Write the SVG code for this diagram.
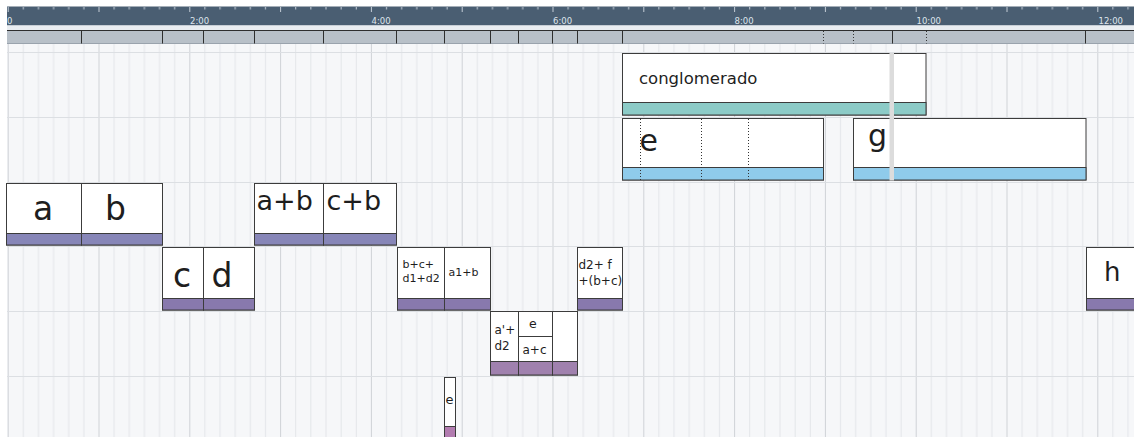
<svg xmlns="http://www.w3.org/2000/svg" width="1134" height="437" viewBox="0 0 1134 437">
<defs>
<style>
.clip{fill:#fff;stroke:#3c3c3c;stroke-width:1}
.t{font-family:"DejaVu Sans","Liberation Sans",sans-serif;fill:#1e1e1e}
.rl{font-family:"DejaVu Sans","Liberation Sans",sans-serif;font-size:8.5px;fill:#dfe5ec}
.sep{stroke:#2e2e2e;stroke-width:1}
.dsep{stroke:#333;stroke-width:1;stroke-dasharray:1 2}
.track{stroke:#dcdfe3;stroke-width:1}
.b1{fill:#8786b8;stroke:#3c3c3c}
.b2{fill:#8879ad;stroke:#3c3c3c}
.b3{fill:#a081ae;stroke:#3c3c3c}
.b4{fill:#b27cb0;stroke:#3c3c3c}
.bt{fill:#8ccbc7;stroke:#3c3c3c}
.bb{fill:#8fcbeb;stroke:#3c3c3c}
</style>
<pattern id="grid" patternUnits="userSpaceOnUse" x="7.7" y="0" width="90.8" height="437">
<rect x="0" y="0" width="1" height="437" fill="#cfd2d7"/>
<rect x="15.13" y="0" width="1" height="437" fill="#e3e5e9"/>
<rect x="30.27" y="0" width="1" height="437" fill="#e3e5e9"/>
<rect x="45.4" y="0" width="1" height="437" fill="#e3e5e9"/>
<rect x="60.53" y="0" width="1" height="437" fill="#e3e5e9"/>
<rect x="75.67" y="0" width="1" height="437" fill="#e3e5e9"/>
</pattern>
<pattern id="ticks" patternUnits="userSpaceOnUse" x="7.7" y="0" width="90.8" height="30">
<rect x="0" y="7" width="1" height="5" fill="#c3ccd6"/>
<rect x="15.13" y="7" width="1" height="2.5" fill="#c3ccd6"/>
<rect x="30.27" y="7" width="1" height="2.5" fill="#c3ccd6"/>
<rect x="45.4" y="7" width="1" height="2.5" fill="#c3ccd6"/>
<rect x="60.53" y="7" width="1" height="2.5" fill="#c3ccd6"/>
<rect x="75.67" y="7" width="1" height="2.5" fill="#c3ccd6"/>
</pattern>
</defs>
<rect x="0" y="0" width="1134" height="437" fill="#ffffff"/>

<g id="ruler">
<rect x="7" y="6.5" width="1127" height="19" fill="#4a5e72"/>
<rect x="7" y="6.5" width="1127" height="19" fill="url(#ticks)"/>
<rect x="7" y="25.5" width="1127" height="4.5" fill="#e9edf1"/>
<text class="rl" x="7" y="24">0</text>
<text class="rl" x="190" y="24">2:00</text>
<text class="rl" x="371.5" y="24">4:00</text>
<text class="rl" x="553" y="24">6:00</text>
<text class="rl" x="734.5" y="24">8:00</text>
<text class="rl" x="916.5" y="24">10:00</text>
<text class="rl" x="1098.5" y="24">12:00</text>
<rect x="7" y="30" width="1127" height="13.5" fill="#b8c0c8"/>
<line x1="7" y1="30.5" x2="1134" y2="30.5" stroke="#2e2e2e"/>
<line x1="7" y1="43.5" x2="1134" y2="43.5" stroke="#9aa3ad"/>
<line class="sep" x1="81.5" y1="30" x2="81.5" y2="43.5"/>
<line class="sep" x1="162.5" y1="30" x2="162.5" y2="43.5"/>
<line class="sep" x1="203.5" y1="30" x2="203.5" y2="43.5"/>
<line class="sep" x1="254.5" y1="30" x2="254.5" y2="43.5"/>
<line class="sep" x1="323.5" y1="30" x2="323.5" y2="43.5"/>
<line class="sep" x1="396.5" y1="30" x2="396.5" y2="43.5"/>
<line class="sep" x1="444.5" y1="30" x2="444.5" y2="43.5"/>
<line class="sep" x1="490.5" y1="30" x2="490.5" y2="43.5"/>
<line class="sep" x1="518.5" y1="30" x2="518.5" y2="43.5"/>
<line class="sep" x1="552.5" y1="30" x2="552.5" y2="43.5"/>
<line class="sep" x1="577.5" y1="30" x2="577.5" y2="43.5"/>
<line class="sep" x1="622.5" y1="30" x2="622.5" y2="43.5"/>
<line class="dsep" x1="823.5" y1="31" x2="823.5" y2="43.5"/>
<line class="dsep" x1="853.5" y1="31" x2="853.5" y2="43.5"/>
<line class="sep" x1="892.5" y1="30" x2="892.5" y2="43.5"/>
<line class="dsep" x1="926.5" y1="31" x2="926.5" y2="43.5"/>
<line class="sep" x1="1085.5" y1="30" x2="1085.5" y2="43.5"/>
</g>

<g id="grid-area">
<rect x="7" y="44" width="1127" height="393" fill="#f6f7f9"/>
<rect x="7" y="44" width="1127" height="393" fill="url(#grid)"/>
<line class="track" x1="7" y1="52.5" x2="1134" y2="52.5"/>
<line class="track" x1="7" y1="117.5" x2="1134" y2="117.5"/>
<line class="track" x1="7" y1="182.5" x2="1134" y2="182.5"/>
<line class="track" x1="7" y1="246.5" x2="1134" y2="246.5"/>
<line class="track" x1="7" y1="311.5" x2="1134" y2="311.5"/>
<line class="track" x1="7" y1="376.5" x2="1134" y2="376.5"/>
</g>

<g id="connectors"></g>

<g id="clip-conglomerado">
<rect class="clip" x="622.5" y="53.5" width="303.5" height="61.5"/>
<rect class="bt" x="622.5" y="102.5" width="303.5" height="12.5"/>
<text class="t" x="639" y="83.5" font-size="16.5">conglomerado</text>
</g>

<g id="clip-e-top">
<rect class="clip" x="622.5" y="118.5" width="201" height="61.5"/>
<rect class="bb" x="622.5" y="167.5" width="201" height="12.5"/>
<line class="dsep" x1="640.5" y1="119" x2="640.5" y2="180"/>
<line class="dsep" x1="701.5" y1="119" x2="701.5" y2="180"/>
<line class="dsep" x1="748.5" y1="119" x2="748.5" y2="180"/>
<text class="t" x="639.5" y="151" font-size="30">e</text>
</g>

<g id="clip-g">
<rect class="clip" x="853.5" y="118.5" width="232.5" height="61.5"/>
<rect class="bb" x="853.5" y="167.5" width="232.5" height="12.5"/>
<text class="t" x="868" y="146" font-size="30">g</text>
</g>

<g id="playhead">
<rect x="889.5" y="53" width="4.5" height="127.5" fill="#dcdcdc"/>
</g>

<g id="clip-a">
<rect class="clip" x="6.5" y="183.5" width="75" height="61.5"/>
<rect class="b1" x="6.5" y="233.5" width="75" height="11.5"/>
<text class="t" x="33" y="220" font-size="33">a</text>
</g>
<g id="clip-b">
<rect class="clip" x="81.5" y="183.5" width="81" height="61.5"/>
<rect class="b1" x="81.5" y="233.5" width="81" height="11.5"/>
<text class="t" x="105" y="220" font-size="33">b</text>
</g>
<g id="clip-ab">
<rect class="clip" x="254.5" y="183.5" width="69" height="61.5"/>
<rect class="b1" x="254.5" y="233.5" width="69" height="11.5"/>
<text class="t" x="256.5" y="209.5" font-size="27">a+b</text>
</g>
<g id="clip-cb">
<rect class="clip" x="323.5" y="183.5" width="73" height="61.5"/>
<rect class="b1" x="323.5" y="233.5" width="73" height="11.5"/>
<text class="t" x="326.5" y="209.5" font-size="27">c+b</text>
</g>

<g id="clip-c">
<rect class="clip" x="162.5" y="247.5" width="41" height="62.5"/>
<rect class="b2" x="162.5" y="298.5" width="41" height="11.5"/>
<text class="t" x="173" y="286.5" font-size="33">c</text>
</g>
<g id="clip-d">
<rect class="clip" x="203.5" y="247.5" width="51" height="62.5"/>
<rect class="b2" x="203.5" y="298.5" width="51" height="11.5"/>
<text class="t" x="211.5" y="286.5" font-size="33">d</text>
</g>
<g id="clip-bcd">
<rect class="clip" x="397.5" y="247.5" width="47" height="62.5"/>
<rect class="b2" x="397.5" y="298.5" width="47" height="11.5"/>
<text class="t" x="402.5" y="268.3" font-size="11">b+c+</text>
<text class="t" x="402.5" y="282.3" font-size="11">d1+d2</text>
</g>
<g id="clip-a1b">
<rect class="clip" x="444.5" y="247.5" width="46" height="62.5"/>
<rect class="b2" x="444.5" y="298.5" width="46" height="11.5"/>
<text class="t" x="448.5" y="275.7" font-size="11">a1+b</text>
</g>
<g id="clip-d2f">
<rect class="clip" x="577.5" y="247.5" width="45" height="62.5"/>
<rect class="b2" x="577.5" y="298.5" width="45" height="11.5"/>
<text class="t" x="578.5" y="269.3" font-size="12">d2+ f</text>
<text class="t" x="578.5" y="285" font-size="12">+(b+c)</text>
</g>
<g id="clip-h">
<rect class="clip" x="1086.5" y="247.5" width="50" height="62.5"/>
<rect class="b2" x="1086.5" y="298.5" width="50" height="11.5"/>
<text class="t" x="1104" y="280.7" font-size="26">h</text>
</g>

<g id="clip-a2d2">
<rect class="clip" x="490.5" y="311.5" width="28" height="63.5"/>
<rect class="b3" x="490.5" y="361.5" width="28" height="13.5"/>
<text class="t" x="494.5" y="334.3" font-size="12">a'+</text>
<text class="t" x="494.5" y="350" font-size="12">d2</text>
</g>
<g id="clip-e-ac">
<rect class="clip" x="518.5" y="311.5" width="34" height="63.5"/>
<rect class="b3" x="518.5" y="361.5" width="34" height="13.5"/>
<line x1="518.5" y1="336.5" x2="552.5" y2="336.5" stroke="#3c3c3c"/>
<text class="t" x="529" y="327.7" font-size="12.5">e</text>
<text class="t" x="522.5" y="354.3" font-size="12">a+c</text>
</g>
<g id="clip-empty">
<rect class="clip" x="552.5" y="311.5" width="25" height="63.5"/>
<rect class="b3" x="552.5" y="361.5" width="25" height="13.5"/>
</g>

<g id="clip-e-small">
<rect class="clip" x="444.5" y="377.5" width="11" height="62"/>
<rect class="b4" x="444.5" y="426.5" width="11" height="13"/>
<text class="t" x="445.5" y="404.3" font-size="13">e</text>
</g>
</svg>
